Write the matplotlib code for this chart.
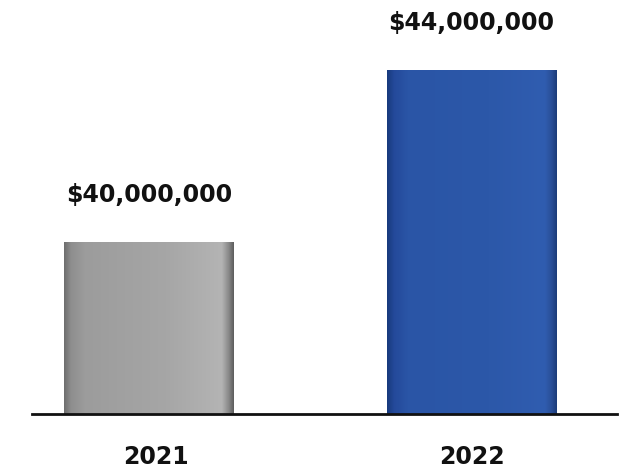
import numpy as np
import matplotlib
matplotlib.use('Agg')
import matplotlib.pyplot as plt
from matplotlib.colors import LinearSegmentedColormap
from matplotlib.transforms import ScaledTranslation

# data ..........................................................................
years = ['2021', '2022']
values = [40_000_000, 44_000_000]
value_labels = ['$40,000,000', '$44,000,000']

# horizontal shading of each bar (position across bar, colour)
shades = [
    [(0.0, '#6e6e6e'), (0.04, '#8e8e8e'), (0.12, '#9c9c9c'), (0.6, '#a6a6a6'),
     (0.93, '#b4b4b4'), (0.97, '#8a8a8a'), (1.0, '#5e5e5e')],
    [(0.0, '#173a7c'), (0.04, '#24499a'), (0.12, '#2a55a6'), (0.6, '#2c58a9'),
     (0.93, '#305db0'), (0.97, '#2a4f98'), (1.0, '#1c3c7a')],
]


def main():
    fig = plt.figure(figsize=(6.31, 4.68), dpi=100)
    ax = fig.add_axes([32 / 631, 54 / 468, 585 / 631, 414 / 468])

    x = np.arange(len(years))
    vals = np.array(values) / 1e6
    bars = ax.bar(x, vals, width=0.527, bottom=0, color='none', zorder=2)

    ax.set_xlim(-0.363, 1.451)
    ax.set_ylim(36, 45.63)

    # gradient fill clipped to each bar
    for bar, cols in zip(bars, shades):
        cmap = LinearSegmentedColormap.from_list('g', cols)
        grad = np.linspace(0, 1, 256).reshape(1, -1)
        x0, w, h = bar.get_x(), bar.get_width(), bar.get_height()
        im = ax.imshow(grad, cmap=cmap, aspect='auto', zorder=2,
                       extent=(x0, x0 + w, 36, h), interpolation='bicubic')
        im.set_clip_path(bar)

    for xi, v, lab in zip(x, vals, value_labels):
        ax.annotate(lab, (xi, v), xytext=(0, 25), textcoords='offset points',
                    ha='center', va='bottom', fontsize=17, fontweight='heavy',
                    color='#111111')

    ax.set_xticks(x, years)
    ax.tick_params(axis='x', length=0, pad=22, labelsize=17)
    for i, t in enumerate(ax.get_xticklabels()):
        t.set_fontweight('heavy')
        t.set_color('#111111')
        if i == 0:
            t.set_transform(t.get_transform() + ScaledTranslation(0.07, 0, fig.dpi_scale_trans))
    ax.set_yticks([])
    for s in ['top', 'right', 'left']:
        ax.spines[s].set_visible(False)
    ax.spines['bottom'].set_linewidth(2)
    ax.spines['bottom'].set_color('#111111')
    ax.spines['bottom'].set_zorder(3)

    fig.savefig('out.png', dpi=100, facecolor='white')
    plt.close(fig)


if __name__ == '__main__':
    main()
